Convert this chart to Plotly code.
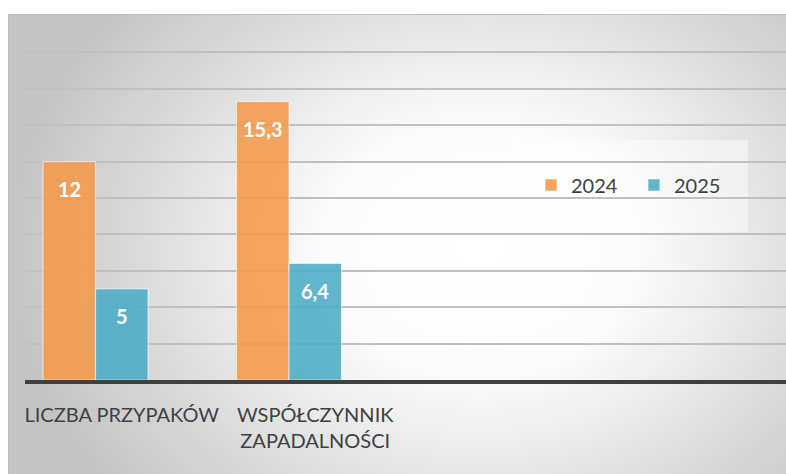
import base64
import plotly.graph_objects as go

# ---- data ----
categories = ["LICZBA PRZYPAKÓW", "WSPÓŁCZYNNIK<br>ZAPADALNOŚCI"]
series_names = ["2024", "2025"]
values_2024 = [12, 15.3]
values_2025 = [5, 6.4]
y_ticks = [0, 2, 4, 6, 8, 10, 12, 14, 16, 18, 20]

def fmt(v):
    s = ("%g" % v)
    return s.replace(".", ",")

W, H = 786, 474
L, R, T, B = 25, 0, 16, 94
pw, ph = W - L - R, H - T - B
cat_px = 193.5
bw = 52.5 / cat_px

def px_x(p):
    return (p - L) / pw

def px_y(p):
    return (H - B - p) / ph

colors = ["rgba(243,152,74,0.88)", "rgba(75,172,198,0.88)"]
offsets = [-1.5 * bw, -0.5 * bw]
xs = list(range(len(categories)))

fig = go.Figure()
for name, vals, col, off in zip(series_names, [values_2024, values_2025], colors, offsets):
    fig.add_trace(go.Bar(
        x=xs, y=vals, name=name, width=bw, offset=off,
        marker=dict(color=col, line=dict(color="rgba(255,255,255,0.55)", width=1.2)),
        hoverinfo="skip",
    ))

annotations = []
for vals, off in zip([values_2024, values_2025], offsets):
    for xi, v in zip(xs, vals):
        annotations.append(dict(
            x=xi + off + bw / 2, y=v, xref="x", yref="y",
            text="<b>%s</b>" % fmt(v), showarrow=False,
            yanchor="middle", yshift=-27,
            font=dict(family="Lato", size=20, color="white"),
        ))

# radial gradient background
gx0, gy0, gx1, gy1 = 8, 14, 786, 474
gw, gh = gx1 - gx0, gy1 - gy0
cx, cy = 480 - gx0, 250 - gy0
svg = f'''<svg xmlns="http://www.w3.org/2000/svg" width="{gw}" height="{gh}" viewBox="0 0 {gw} {gh}" preserveAspectRatio="none">
<defs><radialGradient id="g" gradientUnits="userSpaceOnUse" cx="{cx}" cy="{cy}" r="470"
 gradientTransform="translate({cx} {cy}) scale(1 0.8) translate({-cx} {-cy})">
<stop offset="0" stop-color="#ffffff"/><stop offset="0.33" stop-color="#fcfcfc"/>
<stop offset="1" stop-color="#c4c4c4"/></radialGradient></defs>
<rect x="0" y="0" width="{gw}" height="{gh}" fill="url(#g)"/></svg>'''
src = "data:image/svg+xml;base64," + base64.b64encode(svg.encode()).decode()

fig.update_layout(
    width=W, height=H,
    margin=dict(l=L, r=R, t=T, b=B, pad=0),
    paper_bgcolor="white", plot_bgcolor="rgba(0,0,0,0)",
    barmode="overlay",
    font=dict(family="Lato", color="#404040"),
    images=[dict(source=src, xref="paper", yref="paper",
                 x=px_x(gx0), y=px_y(gy0), sizex=gw / pw, sizey=gh / ph,
                 xanchor="left", yanchor="top", sizing="stretch", layer="below")],
    shapes=[
        dict(type="rect", xref="paper", yref="paper",
             x0=px_x(gx0 + 0.5), x1=px_x(gx1 + 5), y0=px_y(gy1 + 5), y1=px_y(gy0 + 0.5),
             line=dict(color="#bdbdbd", width=1), fillcolor="rgba(0,0,0,0)", layer="below"),
        dict(type="rect", xref="paper", yref="paper",
             x0=px_x(511), x1=px_x(748), y0=px_y(232), y1=px_y(140),
             line=dict(width=0), fillcolor="rgba(255,255,255,0.45)", layer="between"),
    ],
    legend=dict(orientation="h", x=px_x(531), y=px_y(185), xanchor="left", yanchor="middle",
                bgcolor="rgba(0,0,0,0)", font=dict(family="Lato", size=20, color="#404040"),
                entrywidth=58, traceorder="normal"),
    annotations=annotations,
    xaxis=dict(range=[-0.5, -0.5 + pw / cat_px], tickvals=xs, ticktext=categories,
               showgrid=False, zeroline=False, showline=True, linecolor="#404040", linewidth=3.5,
               ticks="", ticklabelstandoff=14,
               tickfont=dict(family="Lato", size=20, color="#404040"), fixedrange=True),
    yaxis=dict(range=[0, 20], tickvals=y_ticks, showticklabels=False, showgrid=True,
               gridcolor="#c0c0c0", gridwidth=1.5, zeroline=False, showline=False, fixedrange=True),
)

fig.write_html("out.html", config={"displayModeBar": False},
               post_script="document.documentElement.style.margin='0';document.body.style.margin='0';"
                           "document.body.style.overflow='hidden';")
